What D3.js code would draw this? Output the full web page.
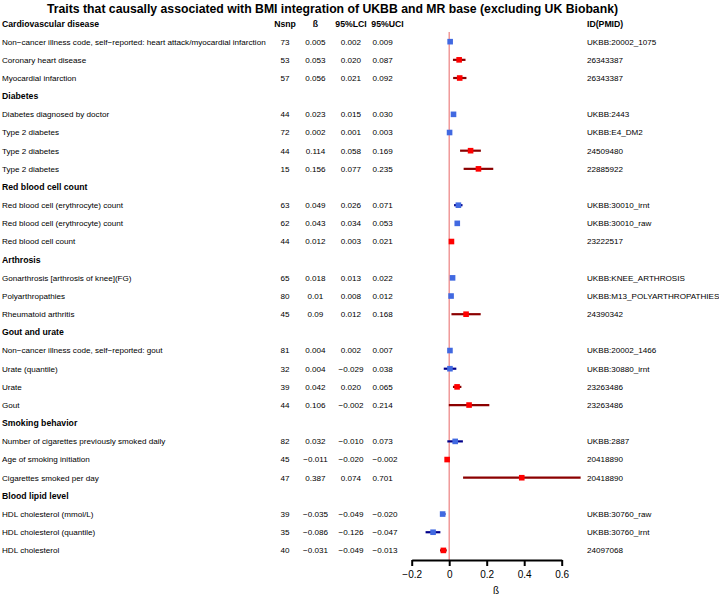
<!DOCTYPE html>
<html>
<head>
<meta charset="utf-8">
<script src="https://cdn.jsdelivr.net/npm/d3@7"></script>
<style>
  html, body { margin: 0; padding: 0; background: #fff; }
  svg { display: block; font-family: "Liberation Sans", Arial, sans-serif; }
</style>
</head>
<body>
<svg id="chart" width="719" height="597"></svg>
<script>
// ---- data ----
const groups = ["Cardiovascular disease", "Diabetes", "Red blood cell count", "Arthrosis",
  "Gout and urate", "Smoking behavior", "Blood lipid level"];
const groupOf = [0,0,0, 1,1,1,1, 2,2,2, 3,3,3, 4,4,4,4, 5,5,5, 6,6,6];
const traits = [
  "Non\u2212cancer illness code, self\u2212reported: heart attack/myocardial infarction",
  "Coronary heart disease",
  "Myocardial infarction",
  "Diabetes diagnosed by doctor",
  "Type 2 diabetes",
  "Type 2 diabetes",
  "Type 2 diabetes",
  "Red blood cell (erythrocyte) count",
  "Red blood cell (erythrocyte) count",
  "Red blood cell count",
  "Gonarthrosis [arthrosis of knee](FG)",
  "Polyarthropathies",
  "Rheumatoid arthritis",
  "Non\u2212cancer illness code, self\u2212reported: gout",
  "Urate (quantile)",
  "Urate",
  "Gout",
  "Number of cigarettes previously smoked daily",
  "Age of smoking initiation",
  "Cigarettes smoked per day",
  "HDL cholesterol (mmol/L)",
  "HDL cholesterol (quantile)",
  "HDL cholesterol"
];
const nsnp = [73,53,57, 44,72,44,15, 63,62,44, 65,80,45, 81,32,39,44, 82,45,47, 39,35,40];
const beta = ["0.005","0.053","0.056", "0.023","0.002","0.114","0.156", "0.049","0.043","0.012",
  "0.018","0.01","0.09", "0.004","0.004","0.042","0.106", "0.032","\u22120.011","0.387",
  "\u22120.035","\u22120.086","\u22120.031"];
const lci = ["0.002","0.020","0.021", "0.015","0.001","0.058","0.077", "0.026","0.034","0.003",
  "0.013","0.008","0.012", "0.002","\u22120.029","0.020","\u22120.002", "\u22120.010","\u22120.020","0.074",
  "\u22120.049","\u22120.126","\u22120.049"];
const uci = ["0.009","0.087","0.092", "0.030","0.003","0.169","0.235", "0.071","0.053","0.021",
  "0.022","0.012","0.168", "0.007","0.038","0.065","0.214", "0.073","\u22120.002","0.701",
  "\u22120.020","\u22120.047","\u22120.013"];
const ids = ["UKBB:20002_1075","26343387","26343387", "UKBB:2443","UKBB:E4_DM2","24509480","22885922",
  "UKBB:30010_irnt","UKBB:30010_raw","23222517", "UKBB:KNEE_ARTHROSIS","UKBB:M13_POLYARTHROPATHIES","24390342",
  "UKBB:20002_1466","UKBB:30880_irnt","23263486","23263486", "UKBB:2887","20418890","20418890",
  "UKBB:30760_raw","UKBB:30760_irnt","24097068"];
const headers = ["Nsnp", "\u00df", "95%LCI", "95%UCI", "ID(PMID)"];
const xTicks = [-0.2, 0, 0.2, 0.4, 0.6];
const title = "Traits that causally associated with BMI integration of UKBB and MR base (excluding UK Biobank)";

const num = s => +String(s).replace("\u2212", "-");

// ---- build row list ----
const rows = [];
groups.forEach((g, gi) => {
  rows.push({type: "group", label: g});
  traits.forEach((t, i) => {
    if (groupOf[i] === gi) rows.push({type: "trait", i});
  });
});

const svg = d3.select("#chart");
const y = d3.scaleLinear().domain([0, rows.length - 1]).range([23.5, 550.4]);
const x = d3.scaleLinear().domain([-0.2, 0.6]).range([411.7, 561.7]);

// title (span 47..618 in the reference)
const titleEl = svg.append("text").attr("x", 332.5).attr("y", 12.5).attr("text-anchor", "middle")
  .attr("font-size", 12.4).attr("font-weight", "bold").text(title);
const tw = titleEl.node().getComputedTextLength();
if (tw > 0) titleEl.attr("font-size", 12.4 * 571 / tw);

// column headers (on first row)
const hdrY = y(0);
const colX = {nsnp: 285, beta: 315.5, lci: 351, uci: 387.5, id: 587};
const hdr = svg.append("g").attr("font-weight", "bold").attr("font-size", 8.7);
hdr.append("text").attr("x", colX.nsnp).attr("y", hdrY).attr("dy", "0.35em").attr("text-anchor", "middle").text(headers[0]);
hdr.append("text").attr("x", colX.beta).attr("y", hdrY).attr("dy", "0.35em").attr("text-anchor", "middle").text(headers[1]);
hdr.append("text").attr("x", colX.lci).attr("y", hdrY).attr("dy", "0.35em").attr("text-anchor", "middle").text(headers[2]);
hdr.append("text").attr("x", colX.uci).attr("y", hdrY).attr("dy", "0.35em").attr("text-anchor", "middle").text(headers[3]);
hdr.append("text").attr("x", colX.id).attr("y", hdrY).attr("dy", "0.35em").attr("text-anchor", "start").text(headers[4]);

// row labels
const rowG = svg.append("g");
rows.forEach((r, k) => {
  const yy = y(k);
  if (r.type === "group") {
    rowG.append("text").attr("x", 2).attr("y", yy).attr("dy", "0.35em")
      .attr("font-size", 8.7).attr("font-weight", "bold").text(r.label);
  } else {
    const i = r.i;
    const t = (xx, anchor, s) => rowG.append("text").attr("x", xx).attr("y", yy).attr("dy", "0.35em")
      .attr("font-size", 8.1).attr("text-anchor", anchor).text(s);
    t(2, "start", traits[i]);
    t(colX.nsnp, "middle", nsnp[i]);
    t(colX.beta, "middle", beta[i]);
    t(colX.lci, "middle", lci[i]);
    t(372.5, "start", uci[i]);
    t(colX.id, "start", ids[i]);
  }
});

// reference line at 0
svg.append("line").attr("x1", x(0)).attr("x2", x(0)).attr("y1", 32).attr("y2", 560)
  .attr("stroke", "#ee8a8a").attr("stroke-width", 1.3);

// CI + boxes
const marks = svg.append("g");
rows.forEach((r, k) => {
  if (r.type !== "trait") return;
  const i = r.i;
  const ukbb = ids[i].startsWith("UKBB");
  const yy = y(k);
  marks.append("line").attr("x1", x(num(lci[i]))).attr("x2", x(num(uci[i])))
    .attr("y1", yy).attr("y2", yy)
    .attr("stroke", ukbb ? "#00008b" : "#8b0000").attr("stroke-width", 2.2);
  const s = 5.6;
  marks.append("rect").attr("x", x(num(beta[i])) - s / 2).attr("y", yy - s / 2)
    .attr("width", s).attr("height", s)
    .attr("fill", ukbb ? "#4169e1" : "#ff0000");
});

// x axis
const axis = d3.axisBottom(x).tickValues(xTicks).tickSize(6).tickSizeOuter(0).tickPadding(5)
  .tickFormat(d => d === 0 ? "0" : d3.format(".1f")(d));
const ag = svg.append("g").attr("transform", "translate(0,560)").call(axis);
ag.select(".domain").attr("stroke", "#000").attr("stroke-width", 2);
ag.selectAll(".tick line").attr("stroke", "#000").attr("stroke-width", 2);
ag.selectAll(".tick text").attr("font-size", 10).attr("fill", "#000")
  .attr("font-family", "'Liberation Sans', Arial, sans-serif");
svg.append("text").attr("x", 496).attr("y", 590).attr("dy", "0.35em").attr("text-anchor", "middle")
  .attr("font-size", 10).text("\u00df");
</script>
</body>
</html>
